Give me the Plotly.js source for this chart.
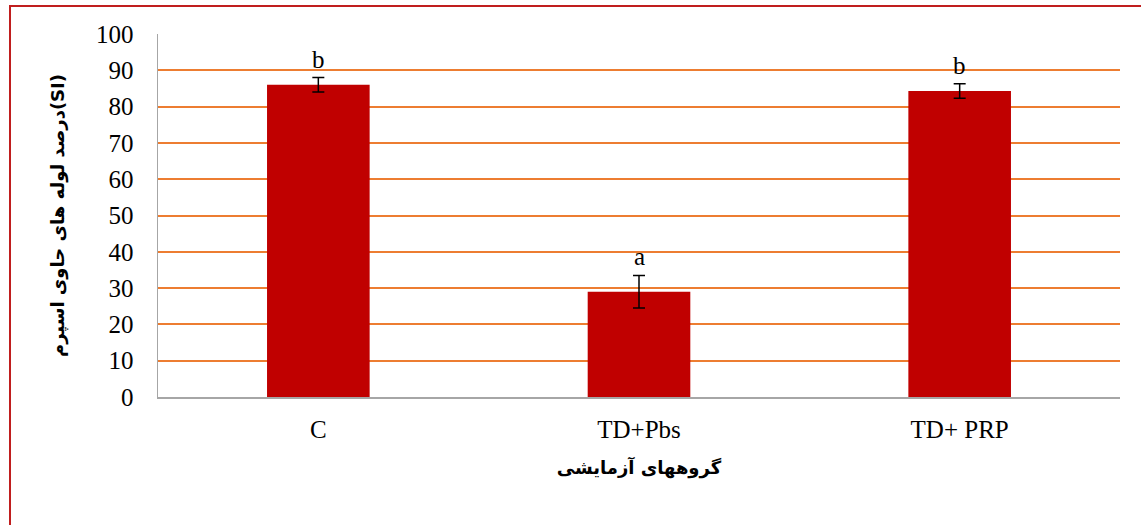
<!DOCTYPE html>
<html>
<head>
<meta charset="utf-8">
<script src="https://cdn.plot.ly/plotly-3.0.1.min.js"></script>
<style>
  html, body { margin: 0; padding: 0; background: #fff; overflow: hidden; }
  #chart { position: absolute; left: 0; top: 0; width: 1141px; height: 525px; z-index: 1; }
  #frame { position: absolute; left: 9px; top: 5px; width: 1140px; height: 530px; z-index: 2;
           pointer-events: none; box-sizing: border-box;
           border-left: 2px solid rgb(192, 30, 30); border-top: 2px solid rgb(192, 30, 30); }
</style>
</head>
<body>
<div id="chart"></div>
<div id="frame"></div>
<script>
const categories = ['C', 'TD+Pbs', 'TD+ PRP'];
const values = [86, 29, 84.3];
const errors = [2, 4.5, 2];
const letters = ['b', 'a', 'b'];
const yTitle = 'درصد لوله های حاوی اسپرم(SI)';
const xTitle = 'گروههای آزمایشی';

const serif = 'Liberation Serif, Times New Roman, serif';

const trace = {
  type: 'bar',
  x: categories,
  y: values,
  marker: { color: '#c00000', line: { color: '#c00000', width: 0 } },
  error_y: { type: 'data', array: errors, visible: true, color: '#000', thickness: 1.5, width: 6 },
  hoverinfo: 'none'
};

const annotations = categories.map((c, i) => ({
  x: c, y: values[i] + errors[i], xref: 'x', yref: 'y',
  text: letters[i], showarrow: false, yanchor: 'bottom', yshift: 3,
  font: { family: serif, size: 25, color: '#000' }
}));

const layout = {
  width: 1141, height: 525,
  margin: { l: 158, r: 21, t: 34, b: 128 },
  paper_bgcolor: 'rgba(0,0,0,0)', plot_bgcolor: 'rgba(0,0,0,0)',
  bargap: 0.68,
  showlegend: false,
  font: { family: serif, size: 25, color: '#000' },
  xaxis: {
    type: 'category',
    showline: true, linecolor: '#a6a6a6', linewidth: 1.5,
    showgrid: false, ticks: '', ticklen: 0, ticklabelstandoff: 9,
    tickfont: { family: serif, size: 25, color: '#000' },
    title: { text: xTitle, standoff: 20, font: { family: 'DejaVu Sans, sans-serif', size: 18, color: '#000', weight: 'bold' } }
  },
  yaxis: {
    range: [0, 100], dtick: 10, tick0: 0,
    showline: true, linecolor: '#a6a6a6', linewidth: 1.5,
    showgrid: true, gridcolor: '#ed7d31', gridwidth: 2,
    zeroline: false, ticks: '', ticklen: 0, ticklabelstandoff: 18,
    tickfont: { family: serif, size: 25, color: '#000' },
    title: { text: yTitle, standoff: 26, font: { family: 'DejaVu Sans, sans-serif', size: 18, color: '#000', weight: 'bold' } }
  },
  annotations: annotations
};

Plotly.newPlot('chart', [trace], layout, { displayModeBar: false, staticPlot: true });
</script>
</body>
</html>
